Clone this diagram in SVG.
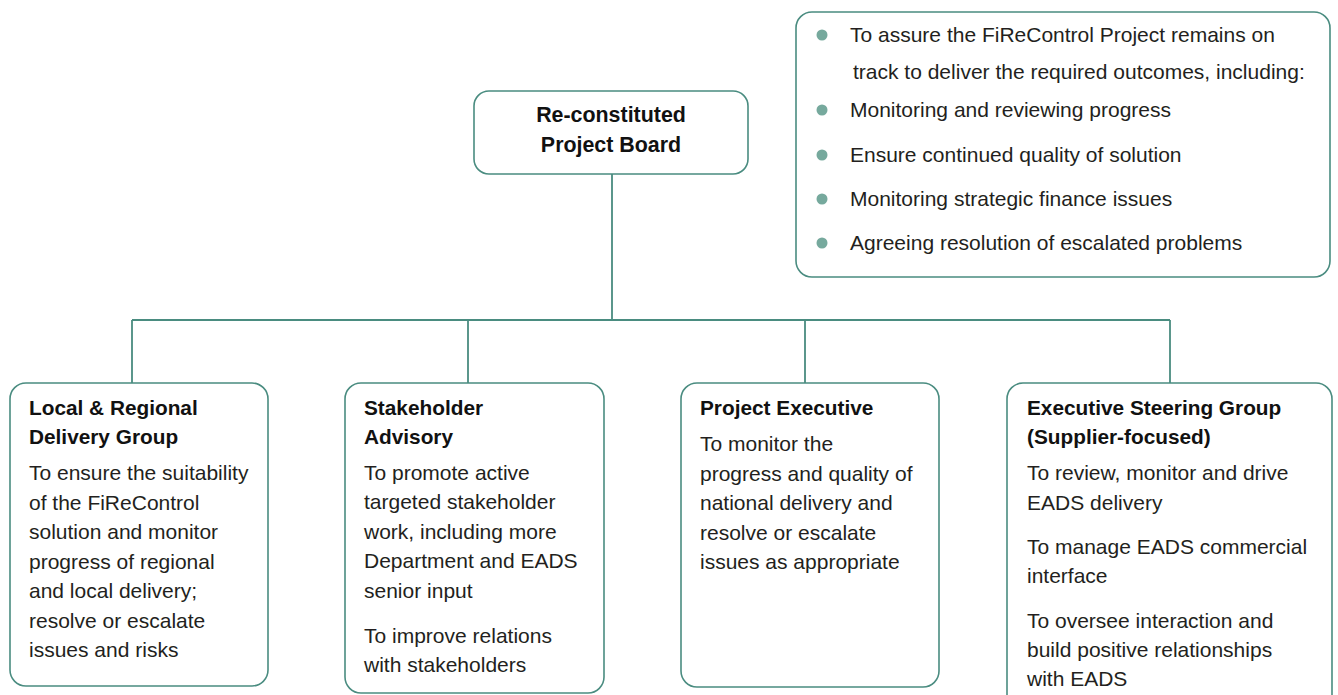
<svg xmlns="http://www.w3.org/2000/svg" width="1338" height="695" viewBox="0 0 1338 695">
<style>
.box{fill:#fff;stroke:#4a8c80;stroke-width:1.6}
.conn{fill:none;stroke:#4a8c80;stroke-width:1.8}
.t{font-family:"Liberation Sans",Arial,sans-serif;font-size:21px;fill:#231f20}
.b{font-family:"Liberation Sans",Arial,sans-serif;font-size:20.8px;font-weight:bold;fill:#111}
.bt{font-size:21.4px}
.dot{fill:#76a99d}
</style>
<rect width="1338" height="695" fill="#fff"/>
<g id="connectors">
<path class="conn" d="M612,174 V320 M132,320 H1170 M132,320 V383 M468,320 V383 M805,320 V383 M1170,320 V383"/>
</g>
<g id="board">
<rect class="box" x="474" y="91" width="274" height="83" rx="15"/>
<text class="b bt" x="611" y="122" text-anchor="middle">Re-constituted</text>
<text class="b bt" x="611" y="152" text-anchor="middle">Project Board</text>
</g>
<g id="remit">
<rect class="box" x="796" y="12" width="534" height="265" rx="16"/>
<circle class="dot" cx="822" cy="35" r="5.5"/>
<circle class="dot" cx="822" cy="110" r="5.5"/>
<circle class="dot" cx="822" cy="155" r="5.5"/>
<circle class="dot" cx="822" cy="199" r="5.5"/>
<circle class="dot" cx="822" cy="243" r="5.5"/>
<text class="t" x="850" y="42">To assure the FiReControl Project remains on</text>
<text class="t" x="853" y="79">track to deliver the required outcomes, including:</text>
<text class="t" x="850" y="117">Monitoring and reviewing progress</text>
<text class="t" x="850" y="162">Ensure continued quality of solution</text>
<text class="t" x="850" y="206">Monitoring strategic finance issues</text>
<text class="t" x="850" y="250">Agreeing resolution of escalated problems</text>
</g>
<g id="local">
<rect class="box" x="10" y="383" width="258" height="303" rx="16"/>
<text class="b" x="29" y="415">Local &amp; Regional</text>
<text class="b" x="29" y="444">Delivery Group</text>
<text class="t" x="29" y="480">To ensure the suitability</text>
<text class="t" x="29" y="510">of the FiReControl</text>
<text class="t" x="29" y="539">solution and monitor</text>
<text class="t" x="29" y="569">progress of regional</text>
<text class="t" x="29" y="598">and local delivery;</text>
<text class="t" x="29" y="628">resolve or escalate</text>
<text class="t" x="29" y="657">issues and risks</text>
</g>
<g id="stakeholder">
<rect class="box" x="345" y="383" width="259" height="310" rx="16"/>
<text class="b" x="364" y="415">Stakeholder</text>
<text class="b" x="364" y="444">Advisory</text>
<text class="t" x="364" y="480">To promote active</text>
<text class="t" x="364" y="509">targeted stakeholder</text>
<text class="t" x="364" y="539">work, including more</text>
<text class="t" x="364" y="568">Department and EADS</text>
<text class="t" x="364" y="598">senior input</text>
<text class="t" x="364" y="643">To improve relations</text>
<text class="t" x="364" y="672">with stakeholders</text>
</g>
<g id="executive">
<rect class="box" x="681" y="383" width="258" height="304" rx="16"/>
<text class="b" x="700" y="415">Project Executive</text>
<text class="t" x="700" y="451">To monitor the</text>
<text class="t" x="700" y="481">progress and quality of</text>
<text class="t" x="700" y="510">national delivery and</text>
<text class="t" x="700" y="540">resolve or escalate</text>
<text class="t" x="700" y="569">issues as appropriate</text>
</g>
<g id="steering">
<rect class="box" x="1007" y="383" width="325" height="330" rx="16"/>
<text class="b" x="1027" y="415">Executive Steering Group</text>
<text class="b" x="1027" y="444">(Supplier-focused)</text>
<text class="t" x="1027" y="480">To review, monitor and drive</text>
<text class="t" x="1027" y="510">EADS delivery</text>
<text class="t" x="1027" y="554">To manage EADS commercial</text>
<text class="t" x="1027" y="583">interface</text>
<text class="t" x="1027" y="628">To oversee interaction and</text>
<text class="t" x="1027" y="657">build positive relationships</text>
<text class="t" x="1027" y="686">with EADS</text>
</g>
</svg>
